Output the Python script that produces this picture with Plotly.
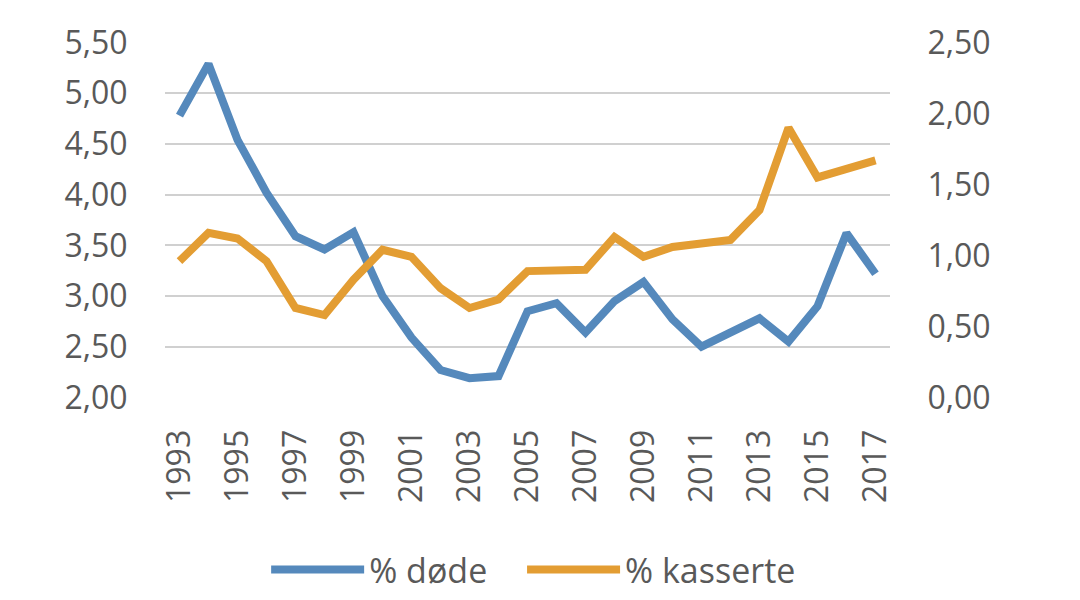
import plotly.graph_objects as go

years = [str(y) for y in range(1993, 2018)]
dode = [4.78, 5.29, 4.54, 4.02, 3.59, 3.46, 3.63, 3.00, 2.59, 2.27, 2.19, 2.21,
        2.85, 2.93, 2.64, 2.95, 3.14, 2.77, 2.50, 2.65, 2.78, 2.55, 2.90, 3.62, 3.22]
kasserte = [0.96, 1.16, 1.12, 0.96, 0.63, 0.58, 0.83, 1.04, 0.99, 0.77, 0.63, 0.69,
            0.89, 0.90, 0.90, 1.13, 0.99, 1.06, 1.09, 1.11, 1.32, 1.90, 1.55, 1.61, 1.67]
left_ticks = [2.0, 2.5, 3.0, 3.5, 4.0, 4.5, 5.0, 5.5]
right_ticks = [0.0, 0.5, 1.0, 1.5, 2.0, 2.5]

def fmt(v):
    return f"{v:.2f}".replace(".", ",")

FONT = "Open Sans"
TXT = "#595959"
PAD_L = 0.006
PAD_R = PAD_L * 2.5 / 3.5

fig = go.Figure()
fig.add_trace(go.Scatter(x=years, y=dode, name="% døde", mode="lines",
                         line=dict(color="#5589BC", width=8), legend="legend"))
fig.add_trace(go.Scatter(x=years, y=kasserte, name="% kasserte", mode="lines",
                         line=dict(color="#E39D33", width=8), yaxis="y2",
                         legend="legend2"))

legend_common = dict(orientation="h", xanchor="left", xref="paper",
                     y=-0.483, yanchor="middle", font=dict(size=34, color=TXT),
                     itemwidth=93, bgcolor="rgba(0,0,0,0)")

fig.update_layout(
    width=1064, height=584,
    margin=dict(l=157, r=182, t=34, b=194, autoexpand=False),
    paper_bgcolor="white", plot_bgcolor="white",
    font=dict(family=FONT, color=TXT, size=32),
    showlegend=True,
    legend=dict(x=0.1395, **legend_common),
    legend2=dict(x=0.4925, **legend_common),
    xaxis=dict(type="category", range=[-0.5, len(years) - 0.5],
               tickangle=-90, tickmode="array",
               tickvals=years[::2], ticktext=years[::2],
               showgrid=False, showline=False, zeroline=False, automargin=False,
               ticks="outside", ticklen=18, tickcolor="rgba(0,0,0,0)",
               tickfont=dict(size=32, color=TXT)),
    yaxis=dict(range=[2.0 - PAD_L, 5.5 + PAD_L], tickmode="array", tickvals=left_ticks,
               ticktext=[fmt(v) for v in left_ticks],
               showgrid=True, gridcolor="#D0D0D0", gridwidth=2,
               zeroline=False, showline=False, automargin=False,
               ticks="outside", ticklen=30, tickcolor="rgba(0,0,0,0)",
               tickfont=dict(size=32, color=TXT)),
    yaxis2=dict(range=[0.0 - PAD_R, 2.5 + PAD_R], overlaying="y", side="right",
                tickmode="array", tickvals=right_ticks,
                ticktext=[fmt(v) for v in right_ticks],
                showgrid=False, zeroline=False, showline=False, automargin=False,
                ticks="outside", ticklen=30, tickcolor="rgba(0,0,0,0)",
                tickfont=dict(size=32, color=TXT)),
)

fig.write_html("out.html")
